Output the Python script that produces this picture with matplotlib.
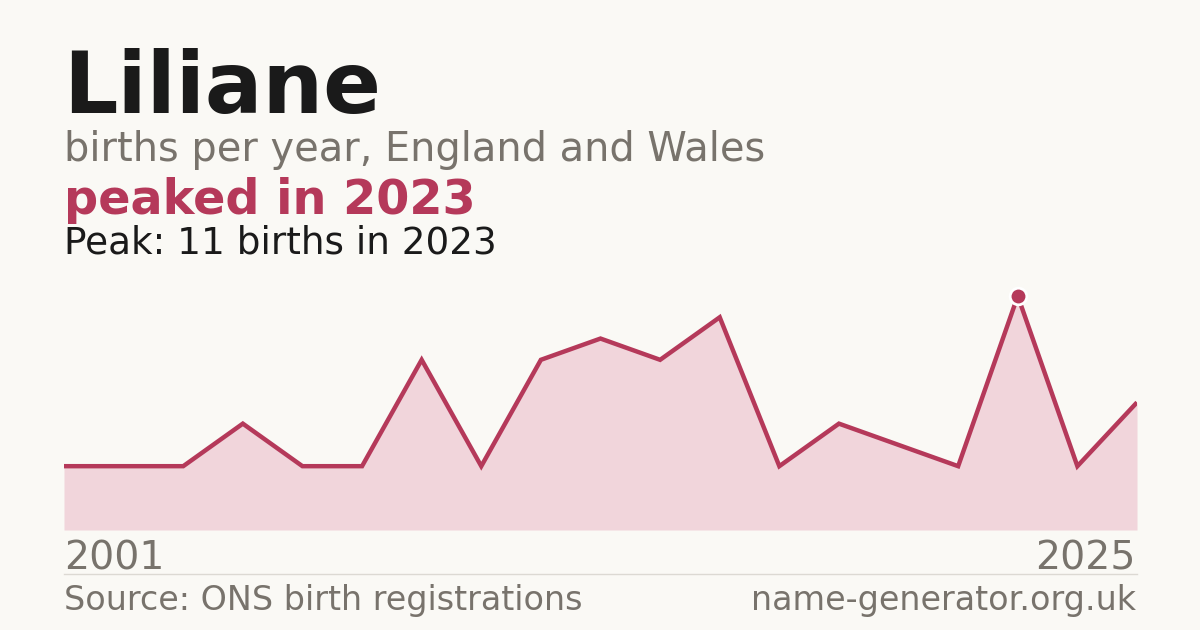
import matplotlib.pyplot as plt
from matplotlib.lines import Line2D

name = "Liliane"
subtitle = "births per year, England and Wales"
headline = "peaked in 2023"
peak_note = "Peak: 11 births in 2023"
first_year = "2001"
last_year = "2025"
source = "Source: ONS birth registrations"
site = "name-generator.org.uk"

births = [3, 3, 3, 5, 3, 3, 8, 3, 8, 9, 8, 10, 3, 5, 4, 3, 11, 3, 6]

BG = "#faf9f5"
LINE = "#b5395a"
FILL = "#f1d5db"
GREY = "#78736c"
DARK = "#1a1a1a"

W, H = 1200, 630
fig = plt.figure(figsize=(12, 6.3), dpi=100, facecolor=BG)


def fx(px):
    return px / W


def fy(py):
    return 1 - py / H


# plot area in pixels: x 64..1137, y 280..530
ax = fig.add_axes([fx(64), fy(530), fx(1137 - 64), (530 - 280) / H])
ax.set_facecolor(BG)
xs = list(range(len(births)))
peak_i = births.index(max(births))
ymax = max(births) * (530 - 280) / (530 - 296)
ax.fill_between(xs, births, 0, color=FILL, lw=0)
ax.plot(xs, births, color=LINE, lw=3.2, solid_joinstyle="miter", solid_capstyle="butt")
ax.plot([peak_i], [births[peak_i]], "o", ms=12, color=LINE, mec="white", mew=2)
ax.set_xlim(0, len(births) - 1)
ax.set_ylim(0, ymax)
ax.axis("off")

fig.text(fx(63), fy(113), name, fontsize=61.5, fontweight="bold", color=DARK, va="baseline")
fig.text(fx(64), fy(161), subtitle, fontsize=28.7, color=GREY, va="baseline")
fig.text(fx(64), fy(214), headline, fontsize=34.4, fontweight="bold", color=LINE, va="baseline")
fig.text(fx(64), fy(254), peak_note, fontsize=26.9, color=DARK, va="baseline")

fig.text(fx(64), fy(569), first_year, fontsize=28.4, color=GREY, va="baseline")
fig.text(fx(1136), fy(569), last_year, fontsize=28.4, color=GREY, va="baseline", ha="right")
fig.add_artist(Line2D([fx(64), fx(1137)], [fy(574), fy(574)], color="#dcd9d3", lw=1))
fig.text(fx(64), fy(610), source, fontsize=24, color=GREY, va="baseline")
fig.text(fx(1136), fy(610), site, fontsize=24, color=GREY, va="baseline", ha="right")

fig.savefig("out.png", dpi=100, facecolor=BG)
